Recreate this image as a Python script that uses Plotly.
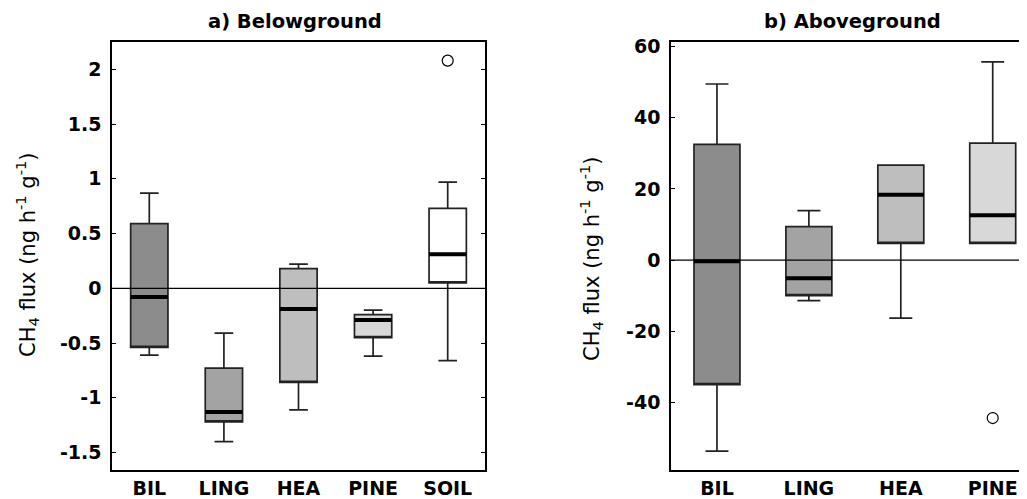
import plotly.graph_objects as go

# ---- data ----
cats_a = ["BIL", "LING", "HEA", "PINE", "SOIL"]
lo_a  = [-0.61, -1.40, -1.11, -0.62, -0.66]
q1_a  = [-0.54, -1.22, -0.86, -0.45, 0.05]
med_a = [-0.08, -1.13, -0.19, -0.29, 0.31]
q3_a  = [0.59, -0.73, 0.18, -0.24, 0.73]
hi_a  = [0.87, -0.41, 0.22, -0.20, 0.97]
out_a_cat = ["SOIL"]
out_a_val = [2.08]

cats_b = ["BIL", "LING", "HEA", "PINE"]
lo_b  = [-53.7, -11.4, -16.3, 4.7]
q1_b  = [-35.0, -10.0, 4.7, 4.7]
med_b = [-0.3, -5.1, 18.4, 12.6]
q3_b  = [32.5, 9.4, 26.7, 32.9]
hi_b  = [49.5, 13.9, 26.7, 55.7]
out_b_cat = ["PINE"]
out_b_val = [-44.4]

fills = {"BIL": "#8c8c8c", "LING": "#a3a3a3", "HEA": "#bebebe",
         "PINE": "#d8d8d8", "SOIL": "#ffffff"}

W, H = 1027, 499
OFF = 8  # page body margin
def px(x): return (x - OFF) / W
def py(y): return 1 - (y - OFF) / H

fig = go.Figure()

def add_panel(cats, lo, q1, med, q3, hi, ocat, oval, xa, ya):
    for i, c in enumerate(cats):
        fig.add_trace(go.Box(
            x=[c], q1=[q1[i]], median=[q1[i]], q3=[q3[i]],
            lowerfence=[lo[i]], upperfence=[hi[i]],
            width=0.5, whiskerwidth=0.5, boxpoints=False,
            fillcolor=fills[c], line=dict(color="#222222", width=1.7),
            xaxis=xa, yaxis=ya, showlegend=False, hoverinfo="skip"))
        # thick median line
        fig.add_trace(go.Box(
            x=[c], q1=[med[i]], median=[med[i]], q3=[med[i]],
            lowerfence=[med[i]], upperfence=[med[i]],
            width=0.5, whiskerwidth=0, boxpoints=False,
            fillcolor="black", line=dict(color="black", width=4),
            xaxis=xa, yaxis=ya, showlegend=False, hoverinfo="skip"))
    fig.add_trace(go.Scatter(
        x=ocat, y=oval, mode="markers",
        marker=dict(symbol="circle-open", size=11, color="black",
                    line=dict(width=1.2)),
        xaxis=xa, yaxis=ya, showlegend=False, hoverinfo="skip"))

add_panel(cats_a, lo_a, q1_a, med_a, q3_a, hi_a, out_a_cat, out_a_val, "x", "y")
add_panel(cats_b, lo_b, q1_b, med_b, q3_b, hi_b, out_b_cat, out_b_val, "x2", "y2")

FAM = "DejaVu Sans"
tickfont = dict(family=FAM, size=19, color="black", weight="bold")
catfont = dict(family=FAM, size=19, color="black", weight="bold")

ydom = [py(470), py(42)]
fig.update_layout(
    width=W, height=H, margin=dict(l=0, r=0, t=0, b=0),
    paper_bgcolor="white", plot_bgcolor="white", boxmode="overlay",
    font=dict(family=FAM, color="black"),
    xaxis=dict(domain=[px(112), px(485)], type="category",
               categoryorder="array", categoryarray=cats_a,
               range=[-0.5, 4.5], showline=True, mirror=True,
               linecolor="black", linewidth=1.5, ticks="",
               showgrid=False, zeroline=False, tickfont=catfont,
               automargin=False, ticklabelstandoff=0),
    yaxis=dict(domain=ydom, range=[-1.66, 2.25], anchor="x",
               tickvals=[-1.5, -1, -0.5, 0, 0.5, 1, 1.5, 2],
               ticktext=["-1.5", "-1", "-0.5", "0", "0.5", "1", "1.5", "2"],
               showline=True, mirror="ticks", linecolor="black",
               linewidth=1.5, ticks="inside", ticklen=4, tickcolor="black",
               showgrid=False, zeroline=False, tickfont=tickfont,
               automargin=False, ticklabelstandoff=5),
    xaxis2=dict(domain=[px(671), 1.0], type="category", anchor="y2",
                categoryorder="array", categoryarray=cats_b,
                range=[-0.5, 3.46], showline=True, mirror=True,
                linecolor="black", linewidth=1.5, ticks="",
                showgrid=False, zeroline=False, tickfont=catfont,
                automargin=False, ticklabelstandoff=0),
    yaxis2=dict(domain=ydom, range=[-59.0, 61.3], anchor="x2",
                tickvals=[-40, -20, 0, 20, 40, 60],
                ticktext=["-40", "-20", "0", "20", "40", "60"],
                showline=True, mirror=False, linecolor="black",
                linewidth=1.5, ticks="inside", ticklen=4, tickcolor="black",
                showgrid=False, zeroline=False, tickfont=tickfont,
                automargin=False, ticklabelstandoff=5),
)

# zero reference lines (above boxes)
for xr, yr in [("x domain", "y"), ("x2 domain", "y2")]:
    fig.add_shape(type="line", xref=xr, yref=yr, x0=0, x1=1, y0=0, y1=0,
                  line=dict(color="black", width=1.2), layer="above")

ytitle = "CH<sub>4</sub> flux (ng h<sup>-1</sup> g<sup>-1</sup>)"
ann = [
    dict(text="a) Belowground", x=px(295), y=py(21)),
    dict(text="b) Aboveground", x=px(852), y=py(21)),
]
for a in ann:
    fig.add_annotation(text=a["text"], x=a["x"], y=a["y"], xref="paper",
                       yref="paper", showarrow=False, xanchor="center",
                       yanchor="middle",
                       font=dict(family=FAM, size=19.5, color="black",
                                 weight="bold"))
for xc, yc in [(27, 255), (591, 259)]:
    fig.add_annotation(text=ytitle, x=px(xc), y=py(yc), xref="paper",
                       yref="paper", showarrow=False, textangle=-90,
                       xanchor="center", yanchor="middle",
                       font=dict(family=FAM, size=21, color="black"))

fig.write_html("out.html")
